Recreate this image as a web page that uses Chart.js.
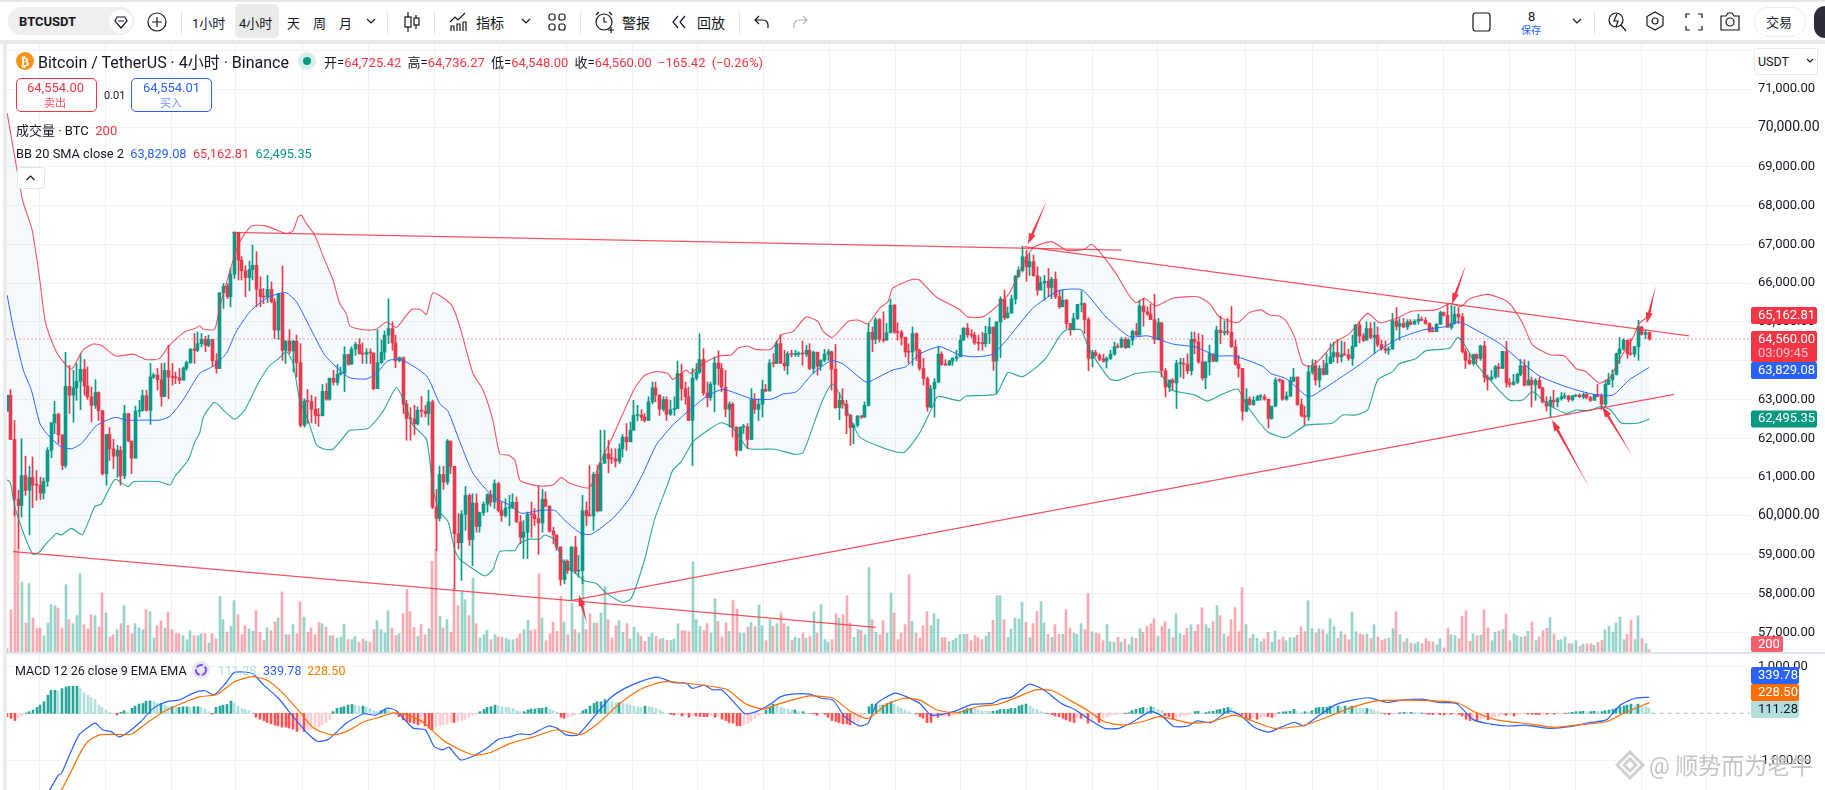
<!DOCTYPE html>
<html>
<head>
<meta charset="utf-8">
<title>BTCUSDT</title>
<script src="https://cdn.jsdelivr.net/npm/chart.js@4"></script>
<style>
html,body{margin:0;padding:0;background:#fff;width:1825px;height:790px;overflow:hidden;font-family:Roboto,"Noto Sans CJK SC",sans-serif;color:#131722}
.t{position:absolute;white-space:nowrap;transform:translateY(-50%);font-size:13px}
.ic{position:absolute;fill:none;stroke:#131722;stroke-width:1.2}
.sep{position:absolute;width:1px;top:10px;height:24px;background:#e0e3eb}
canvas{position:absolute;display:block}
.r{color:#F23645}
</style>
</head>
<body>
<div style="position:absolute;left:0;top:0;width:1825px;height:2px;background:#e6e6e6"></div>
<div style="position:absolute;left:0;top:40px;width:1825px;height:4px;background:#e9e9e9"></div>
<div style="position:absolute;left:3px;top:44px;width:4px;height:746px;background:#ececec"></div>

<!-- toolbar -->
<div style="position:absolute;left:8px;top:7px;width:126px;height:28px;border-radius:14px;background:#efefef"></div>
<div style="position:absolute;left:109px;top:10px;width:23px;height:23px;border-radius:12px;background:#fff"></div>
<span class="t" style="left:19px;top:21px;font-weight:700;font-size:13px">BTCUSDT</span>
<svg class="ic" style="left:114px;top:15px" width="14" height="14"><path d="M3 2h8l2 4-6 7-6-7z M4 6h6"/></svg>
<svg class="ic" style="left:147px;top:12px" width="20" height="20"><circle cx="10" cy="10" r="9"/><path d="M10 5v10M5 10h10"/></svg>
<div class="sep" style="left:181px"></div>
<div style="position:absolute;left:235px;top:4px;width:44px;height:34px;border-radius:5px;background:#ebebeb"></div>
<span class="t" style="left:192px;top:22px">1小时</span>
<span class="t" style="left:239px;top:22px">4小时</span>
<span class="t" style="left:287px;top:22px">天</span>
<span class="t" style="left:313px;top:22px">周</span>
<span class="t" style="left:339px;top:22px">月</span>
<svg class="ic" style="left:366px;top:17px" width="10" height="8"><path d="M1 2l4 4 4-4"/></svg>
<div class="sep" style="left:387px"></div>
<svg class="ic" style="left:403px;top:11px" width="18" height="22"><path d="M5 1v20M13 4v14"/><rect x="2" y="6" width="6" height="10" fill="#fff"/><rect x="11" y="7" width="5" height="7" fill="#fff"/></svg>
<div class="sep" style="left:434px"></div>
<svg class="ic" style="left:449px;top:12px" width="20" height="20"><path d="M1 10l5-5 3 3 7-7M2 19v-5h3v5M8 19v-7h3v7M14 19v-9h3v9"/></svg>
<span class="t" style="left:476px;top:22px;font-size:14px">指标</span>
<svg class="ic" style="left:521px;top:17px" width="10" height="8"><path d="M1 2l4 4 4-4"/></svg>
<svg class="ic" style="left:548px;top:13px" width="18" height="18"><rect x="1" y="1" width="6" height="6" rx="2"/><rect x="11" y="1" width="6" height="6" rx="2"/><rect x="1" y="11" width="6" height="6" rx="2"/><rect x="11" y="11" width="6" height="6" rx="2"/></svg>
<div class="sep" style="left:580px"></div>
<svg class="ic" style="left:594px;top:11px" width="22" height="22"><circle cx="10" cy="11" r="8"/><path d="M10 6v5h3M2 4l3-3M15 1l3 3M17 16v6M14 19h6"/></svg>
<span class="t" style="left:622px;top:22px;font-size:14px">警报</span>
<svg class="ic" style="left:671px;top:15px" width="16" height="14"><path d="M7 1L2 7l5 6M14 1L9 7l5 6"/></svg>
<span class="t" style="left:697px;top:22px;font-size:14px">回放</span>
<div class="sep" style="left:739px"></div>
<svg class="ic" style="left:754px;top:15px" width="16" height="14"><path d="M5 1L1 5l4 4M1 5h8a5 5 0 0 1 5 5v3"/></svg>
<svg class="ic" style="left:792px;top:15px;stroke:#b2b5be" width="16" height="14"><path d="M11 1l4 4-4 4M15 5H7a5 5 0 0 0-5 5v3"/></svg>
<svg class="ic" style="left:1472px;top:12px" width="19" height="20"><rect x="1" y="1" width="17" height="18" rx="2.5"/></svg>
<span class="t" style="left:1528px;top:16px;font-size:13px">8</span>
<span class="t" style="left:1521px;top:29px;font-size:10px;color:#2962ff">保存</span>
<svg class="ic" style="left:1572px;top:17px" width="10" height="8"><path d="M1 2l4 4 4-4"/></svg>
<div class="sep" style="left:1594px"></div>
<svg class="ic" style="left:1607px;top:10px" width="20" height="22"><circle cx="9" cy="10" r="7"/><path d="M14 15l5 6M10 4l-3 7h4l-2 6"/></svg>
<svg class="ic" style="left:1645px;top:11px" width="20" height="20"><path d="M10 1l8 4.5v9L10 19l-8-4.500v-9z"/><circle cx="10" cy="10" r="3"/></svg>
<svg class="ic" style="left:1685px;top:13px" width="18" height="18"><path d="M1 5V1h4M13 1h4v4M17 13v4h-4M5 17H1v-4"/></svg>
<svg class="ic" style="left:1720px;top:12px" width="20" height="19"><path d="M1 4h5l2-3h4l2 3h5v14H1z"/><circle cx="10" cy="10" r="4"/></svg>
<div style="position:absolute;left:1754px;top:7px;width:50px;height:28px;border:1px solid #ececec;border-radius:14px"></div>
<span class="t" style="left:1766px;top:21px">交易</span>
<div style="position:absolute;left:1814px;top:6px;width:11px;height:32px;background:#2a2e39;border-radius:16px 0 0 16px"></div>

<canvas id="priceChart" style="left:7px;top:44px" width="1818" height="608"></canvas>
<div style="position:absolute;left:7px;top:652px;width:1818px;height:2px;background:#e0e3eb"></div>
<canvas id="macdChart" style="left:7px;top:654px" width="1818" height="136"></canvas>

<!-- legends -->
<svg style="position:absolute;left:16px;top:52px" width="18" height="18"><circle cx="9" cy="9" r="9" fill="#f7931a"/><text x="5" y="13.500" font-size="12" font-weight="700" fill="#fff" font-family="Roboto">₿</text></svg>
<span class="t" style="left:38px;top:61px;font-size:16px">Bitcoin / TetherUS · 4小时 · Binance</span>
<svg style="position:absolute;left:298px;top:52px" width="18" height="18"><circle cx="9" cy="9" r="9" fill="#daeee9"/><circle cx="9" cy="9" r="4" fill="#089981"/></svg>
<span class="t" style="left:324px;top:61px;font-size:13px;word-spacing:3px">开=<span class="r">64,725.42</span> 高=<span class="r">64,736.27</span> 低=<span class="r">64,548.00</span> 收=<span class="r">64,560.00</span> <span class="r">−165.42 (−0.26%)</span></span>
<div style="position:absolute;left:16px;top:78px;width:79px;height:32px;border:1px solid #F23645;border-radius:5px;background:#fff"></div>
<span class="t r" style="left:27px;top:87px;font-size:13px">64,554.00</span>
<span class="t" style="left:44px;top:102px;font-size:11px;color:#f7525f">卖出</span>
<span class="t" style="left:104px;top:95px;font-size:11px">0.01</span>
<div style="position:absolute;left:131px;top:78px;width:79px;height:32px;border:1px solid #2962ff;border-radius:5px;background:#fff"></div>
<span class="t" style="left:143px;top:87px;font-size:13px;color:#2962ff">64,554.01</span>
<span class="t" style="left:160px;top:102px;font-size:11px;color:#6d8fff">买入</span>
<span class="t" style="left:16px;top:129px;font-size:13px">成交量 · BTC &nbsp;<span class="r">200</span></span>
<span class="t" style="left:16px;top:153px;font-size:12.800px">BB 20 SMA close 2 &nbsp;<span style="color:#2962ff">63,829.08</span> &nbsp;<span class="r">65,162.81</span> &nbsp;<span style="color:#089981">62,495.35</span></span>
<div style="position:absolute;left:17px;top:167px;width:26px;height:20px;border:1px solid #e0e3eb;border-radius:3px;background:#fff"></div>
<svg class="ic" style="left:25px;top:174px" width="11" height="8"><path d="M1.500 6l4-4 4 4"/></svg>
<div style="position:absolute;left:1754px;top:48px;width:62px;height:25px;border:1px solid #e8e8e8;border-radius:3px;background:#fff"></div>
<span class="t" style="left:1758px;top:61px;font-size:12.500px">USDT</span>
<svg class="ic" style="left:1806px;top:58px" width="8" height="6"><path d="M1 1l3 3 3-3"/></svg>
<span class="t" style="left:15px;top:670px;font-size:12.500px">MACD 12 26 close 9 EMA EMA</span>
<svg style="position:absolute;left:192px;top:661px" width="18" height="18"><circle cx="9" cy="9" r="9" fill="#e8e8f4"/><circle cx="9" cy="9" r="5" fill="none" stroke="#7a4cf0" stroke-width="2" stroke-dasharray="7 2"/></svg>
<span class="t" style="left:218px;top:670px;font-size:12.500px;color:#b2dfdb">111.28</span>
<span class="t" style="left:263px;top:670px;font-size:12.500px;color:#2962ff">339.78</span>
<span class="t" style="left:307px;top:670px;font-size:12.500px;color:#f57c00">228.50</span>

<!-- watermark -->
<svg style="position:absolute;left:1615px;top:750px" width="30" height="30" fill="none" stroke="#cfcfcf" stroke-width="3"><path d="M15 2l13 13-13 13L2 15z M15 9l6 6-6 6-6-6z"/></svg>
<span class="t" style="left:1649px;top:764px;font-size:23px;color:#c4c4c4;text-shadow:0 0 2px #fff">@ 顺势而为老牛</span>

<script>
/* global Chart */

// chart data, one entry per 4h bar
const firstOpen = 62700;
const closes = [
    63110,61970,60430,60270,61040,60660,60990,60800,60790,60590,
    60890,61690,62400,62620,62090,61300,63340,63110,63300,63470,
    63780,63350,63070,62850,63180,62710,61090,62100,61730,61540,
    61690,61030,62640,61930,61490,62700,62720,63100,62720,63580,
    63630,63510,63080,63750,63580,63570,63560,63500,63810,63950,
    64300,64270,64440,64550,64400,64550,64000,63800,65750,65920,
    65650,66230,67300,66590,66320,66140,66350,66460,65840,65650,
    65640,65840,65520,64790,65730,64270,64510,64250,64500,63950,
    62340,62960,62950,62750,62590,62580,63210,63010,63550,63440,
    63650,63680,64160,63910,64300,64420,64180,64170,64220,64200,
    63280,63950,64220,64660,64830,64460,64000,64080,62880,62510,
    62500,62380,62720,62700,62640,62940,60230,59940,61070,60870,
    61930,61280,59540,59310,60040,60530,59390,60330,59730,60080,
    60300,60550,60360,60830,60140,60010,60200,60230,60350,59840,
    59450,59580,60040,60030,59930,59820,60430,60250,59610,59510,
    59200,58360,58830,58590,59200,58580,58590,60140,60010,60000,
    61070,60130,61360,61600,61480,61470,61410,61730,62030,61910,
    62210,62590,62600,62550,62460,62940,63300,63110,62750,63000,
    62620,62740,62770,63670,63280,63070,62460,63550,63710,64030,
    63170,63050,63390,63940,63800,63320,62750,62880,62290,61690,
    62290,62300,61970,63010,62750,62880,63260,63220,63940,63930,
    64440,63940,63870,64180,64160,64170,64180,64170,64270,63800,
    64220,63860,64010,64170,64230,63780,62790,62980,62880,62590,
    62280,62340,62570,62550,62850,64730,64550,65060,64550,64530,
    64720,65430,64740,64730,64600,64230,64220,64700,64270,63800,
    63540,62810,63280,63450,64170,63900,63890,63990,64060,64100,
    64530,64840,64670,64660,64460,64450,64440,64700,64870,63990,
    65000,65590,65110,65230,65590,66180,66330,66680,66420,66550,
    66190,65820,66010,66050,65890,66100,65650,65390,65560,64960,
    64800,65090,65450,65470,65060,64060,64210,64140,64040,63990,
    64060,64170,64360,64350,64550,64340,64530,64760,64660,65410,
    65260,65200,65060,64550,64980,63740,63320,63500,63430,63930,
    63930,63910,63740,64550,64490,63970,63560,63970,64170,63990,
    64790,64720,64740,64730,64360,63910,63800,62700,63010,62870,
    62980,63070,63070,63010,62510,62830,63500,63490,63010,63090,
    63480,63580,62870,62590,62550,63710,63870,63500,63800,63650,
    63930,64100,64210,64100,64160,64150,64060,64370,64920,64640,
    64530,64830,64600,64660,64420,64310,64270,64300,65030,64890,
    64960,64870,65000,64940,65020,65070,65040,64960,64760,64750,
    64940,65240,65170,64860,64960,65200,65130,64230,64010,63930,
    64160,64060,64380,63580,63520,63580,63840,63800,64240,63430,
    63390,63450,63650,63870,63370,63500,63380,63490,63300,62940,
    62830,62980,62940,63020,63070,63090,63000,63090,63110,63070,
    63130,63050,62980,63130,63080,62880,63390,63510,63650,64180,
    64300,64530,64180,64170,64360,64870,64680,64730,64560
];
const highs = [
    63110,63260,62460,60660,61990,61540,61280,61520,61170,61000,
    60980,61760,62400,62950,62650,62090,64220,63880,63750,63930,
    64180,64030,63840,63320,63510,63200,62720,62100,62280,61970,
    61820,61790,62850,62640,61930,62830,62980,63240,63240,63930,
    63680,63800,63930,63940,64400,63930,63710,63800,63840,63990,
    64310,64700,64740,64700,64630,64660,64550,64180,65750,65990,
    65990,66380,67320,67300,66680,66450,66570,66980,66810,66160,
    65860,66200,66030,65600,65730,66440,64510,64800,64530,64660,
    64440,63020,63260,63110,63070,62770,63390,63410,63550,63750,
    63900,63840,64360,64170,64360,64480,64570,64460,64310,64310,
    64200,64790,64530,64770,65600,65000,64660,64100,64100,62980,
    62790,62850,62810,63080,62850,63240,62980,60680,61280,61280,
    61970,61930,61280,60060,60140,60760,60570,60570,60570,60100,
    60360,60570,60660,60930,60870,60360,60440,60530,60570,60490,
    60010,59880,60100,60360,60190,60770,60680,60620,60260,59710,
    59510,59200,58870,58870,59200,59470,58980,60530,60360,61300,
    61130,61300,62210,62210,61950,61730,61730,61860,62100,62380,
    62420,62980,62850,62740,62640,63070,63450,63450,63130,63070,
    63070,62980,63070,63990,63910,63450,63320,63800,63930,64700,
    64310,63450,63450,64100,64250,63930,63750,62940,62920,62290,
    62290,62360,62380,63280,63150,63020,63500,63390,64030,64180,
    64510,64670,64270,64230,64270,64270,64230,64510,64400,64440,
    64250,64220,64030,64290,64290,64250,64420,63170,63280,62980,
    62620,62380,62590,62590,62940,64960,64870,65110,65090,65260,
    64960,65590,65450,64980,64790,64610,64440,64870,64720,64300,
    64060,63580,63370,63540,64370,64230,64030,64010,64080,64270,
    64660,64850,64960,64800,64730,64660,64730,64890,65110,64870,
    65000,65650,65820,65390,65690,66200,66420,66950,66850,66760,
    66720,66420,66160,66200,66380,66150,66290,65820,65820,65580,
    64960,65220,65450,65800,65490,65110,64270,64270,64180,64170,
    64100,64270,64480,64440,64600,64600,64570,64790,64960,65560,
    65600,65390,65460,65710,65090,64980,63800,63510,63540,64010,
    64060,64060,64180,64740,64740,64700,64660,63970,64400,64180,
    64890,65150,65030,65090,65400,64530,64140,63800,63280,63070,
    63070,63110,63130,63130,63010,62830,63560,63540,63510,63200,
    63580,63800,63580,63020,62830,63880,64030,64010,63880,64010,
    64180,64440,64480,64550,64510,64480,64300,64660,64940,65000,
    64700,65000,64980,65000,64870,64530,64510,64360,65220,65370,
    65090,65090,65060,65060,65060,65200,65130,65110,64980,64870,
    64960,65280,65260,65450,65430,65400,65370,65220,64310,64180,
    64170,64180,64400,64500,63630,63750,63880,63930,64240,64500,
    63540,63650,63680,64030,64030,63990,63580,63540,63580,63320,
    63070,63070,63240,63050,63180,63170,63110,63110,63130,63150,
    63170,63170,63080,63130,63390,63150,63500,63680,63770,64200,
    64600,64570,64530,64570,64370,65040,64890,64790,64740
];
const lows = [
    62700,61970,60010,59150,59970,60530,59510,60210,60400,60420,
    60440,60760,61500,62120,61860,61190,61240,62640,62420,62980,
    62740,63110,63000,62420,62770,62460,61050,60790,61430,61220,
    61000,60790,60960,61910,61090,61490,62550,62700,62700,62360,
    63540,63250,62830,63070,63020,63370,63410,63410,63500,63750,
    63930,63930,64230,64360,64230,64360,63860,63680,63800,65350,
    65600,65390,66120,66080,66080,65650,65800,66080,65390,65390,
    65470,65500,65490,64570,64550,64010,63930,64180,63710,63580,
    62290,62290,62380,62400,62380,62310,62580,62980,62980,63370,
    63370,63630,63200,63880,63910,64140,64170,63930,63930,63930,
    63250,63280,63930,64030,64440,64270,63820,63970,62640,61950,
    61950,62090,62340,62550,62550,62340,60190,59110,59870,60680,
    60810,61090,58120,59150,58340,59630,59240,58720,59580,59580,
    60010,60100,60250,60190,60100,59860,59970,59750,60190,59840,
    59280,58900,58900,59450,59750,59010,59580,60230,59580,59280,
    59110,58210,58250,58510,57820,58510,58420,58250,59750,60000,
    59630,60100,60130,61350,61110,61350,61260,61350,61520,61690,
    61910,62210,62450,62460,62420,62460,62890,62940,62590,62700,
    62460,62590,62590,62770,62980,62880,62460,61300,63500,63670,
    63110,62810,62980,62680,63370,63200,62550,62290,62030,61540,
    61690,62120,61730,61970,62640,62460,62550,63200,63220,63840,
    63930,63930,63750,63650,64100,64110,64110,63880,64110,63770,
    63670,63630,63750,63970,64010,63240,62770,62480,62770,62120,
    61820,61860,62290,62510,62530,62830,64230,64440,64480,64480,
    64530,64720,64700,64530,64400,64100,63930,63880,64000,63750,
    63370,62700,62790,62550,63430,63880,63880,63880,63880,63990,
    64100,64530,64600,64600,64420,64270,64270,64360,64440,63750,
    63150,64080,65060,65090,65220,65460,66150,66290,66050,66200,
    66180,65690,65820,65560,65650,65600,65600,65350,65390,64830,
    64660,64790,65060,65260,64700,63740,63840,64100,64000,63960,
    63810,64030,64140,64330,64340,64310,64340,64400,64650,64660,
    64890,65170,65060,64440,64530,63580,63070,63200,63240,62770,
    63580,63540,63670,63630,64180,63930,63500,63280,63630,63970,
    63970,64440,64660,64670,64340,63880,63580,62460,62680,62850,
    62850,62980,62980,62980,62270,62490,62810,63450,62980,62980,
    63070,63450,62850,62550,62340,62460,63650,63370,63320,63630,
    63650,63930,63970,63940,63970,64140,64010,63880,64360,64460,
    64490,64530,64570,64180,64360,64270,64200,64160,64300,64790,
    64530,64850,64800,64920,64940,64940,65030,64940,64730,64740,
    64750,64940,65150,64860,64810,64940,64960,64200,63800,63900,
    63880,63930,64010,63450,63240,63500,63540,63580,63800,63320,
    63320,63370,63410,63610,63350,63370,62810,62980,63280,62910,
    62700,62550,62810,62810,62980,63020,62940,62960,63070,63050,
    63020,63020,62950,62980,63070,62740,62810,63390,63320,63630,
    63930,64270,64060,64140,64100,64010,64660,64570,64530
];
const volumes = [
    300,3810,12660,9210,6300,2610,6150,3060,2100,2160,
    1470,2610,4260,4170,3960,2160,6060,2910,2550,3270,
    7050,2460,2070,3360,3270,2250,5310,3510,1350,1560,
    2010,2550,4170,2400,1650,2550,2160,2010,3810,3630,
    1260,2370,2790,2160,3600,2010,1650,1650,1470,1110,
    1920,1470,1470,1650,1650,810,1650,1170,5010,2910,
    1800,2310,4620,3360,1560,2370,2070,1860,3720,1770,
    1020,2160,1920,2700,3060,5400,1560,1560,2460,1650,
    4530,3150,1770,2160,1560,2670,2550,2250,1470,1470,
    1260,1350,2460,1110,1110,1410,870,1170,990,900,
    2010,2820,2010,1710,3720,2160,1470,1650,3450,5610,
    3630,2220,1410,2460,1560,2100,8160,9270,3210,2160,
    2910,1770,5760,4170,5460,4710,3270,6660,2550,1290,
    1560,1950,1110,1560,1350,1350,1230,1110,1110,1260,
    1650,2010,2850,1920,2010,7050,3060,1020,1650,2700,
    1860,5010,2700,1560,4410,2010,1710,6810,2010,3450,
    2610,2610,3510,5910,2910,1260,2370,2820,1770,2550,
    1170,2250,1710,1410,960,1350,1710,1410,1170,1230,
    1050,1050,1170,2550,1920,1920,1830,8130,2910,2310,
    1920,2550,1710,4800,2760,1350,2610,1860,4620,3870,
    1710,1710,2250,2670,2310,4230,2370,1020,2910,2310,
    2550,3510,2550,2310,1020,1350,1230,1710,1230,1410,
    3600,1710,4260,1110,870,1110,3450,3060,3360,5070,
    2610,1320,2010,1950,1560,7590,2910,1800,1560,2820,
    1710,5310,3510,1110,1710,2460,6960,2760,1710,1260,
    2370,3630,2370,3450,2970,1290,1290,930,1050,1230,
    1560,1590,1590,1020,1470,1290,1110,1410,1770,2850,
    5070,5070,2910,1320,2070,3060,2970,4470,2670,1290,
    2550,3630,4530,2610,1590,1320,2460,1590,1590,3810,
    2160,1710,1590,2550,2010,5250,1830,1710,1650,1020,
    2460,930,870,1320,900,1170,660,1350,1230,2100,
    1770,2310,2550,3000,1410,2310,2730,2070,1320,3450,
    1650,1500,2130,2460,1860,2460,3990,2460,2130,2730,
    4170,3270,1620,1410,2910,3990,1830,5790,2460,1230,
    1590,1230,930,1170,1770,870,1890,1110,1350,1020,
    1290,1290,1500,2310,1830,4620,2100,1710,2070,2010,
    1620,3000,2310,1230,1830,1560,1110,3600,1830,1620,
    1560,1620,1230,2460,1350,1050,1170,1260,2100,3630,
    1560,900,1200,810,750,900,750,1200,960,900,
    660,1200,360,2100,1560,1470,1200,3210,3720,960,
    1650,1470,1530,3810,2190,1020,1770,1890,2010,3420,
    1020,1650,1470,1350,1410,1860,2700,1020,1350,1920,
    2130,3090,1620,1050,1110,1350,750,750,1020,510,
    720,750,750,600,870,1050,2010,2310,1800,2610,
    3150,1110,1590,2850,1110,3270,1200,750,200
];
const macdHist = [
    -70,-105,-154,-98,-56,7,35,70,126,175,245,385,490,490,476,525,560,574,574,574,
    525,434,385,336,294,175,126,70,14,0,-35,21,56,21,105,154,196,210,259,266,
    245,210,210,175,140,140,126,126,140,140,126,140,140,126,98,35,-14,126,154,175,
    189,259,210,154,98,84,56,7,-84,-126,-154,-196,-224,-252,-266,-294,-294,-315,-336,-385,
    -350,-385,-364,-336,-315,-294,-245,-196,-126,35,105,126,140,175,189,175,154,154,140,98,
    56,35,56,84,70,14,-14,-70,-140,-175,-196,-210,-245,-224,-266,-315,-350,-294,-266,-245,
    -224,-196,-196,-175,-154,-126,-84,-42,-14,35,84,126,140,175,161,140,126,119,105,56,
    35,35,70,91,91,105,105,126,84,56,28,-84,-105,-84,-56,-35,-14,56,84,154,
    210,245,245,294,266,245,224,224,210,196,175,154,140,126,154,140,126,105,70,28,
    0,-21,-35,-21,-56,-35,-84,-35,-56,-70,-70,-70,-42,-84,-70,-126,-154,-196,-210,-266,
    -266,-245,-224,-175,-105,-56,-14,70,126,196,175,126,105,91,70,70,35,35,0,0,
    -14,-42,-14,-21,-84,-154,-175,-196,-224,-224,-245,-224,-175,-105,0,140,196,196,175,175,
    210,245,196,140,105,70,35,0,-14,
    -70,-105,-196,-196,-84,-84,-70,-56,-56,-35,-14,35,70,98,105,98,70,56,49,42,
    42,56,84,84,84,105,105,154,175,196,154,105,84,35,14,-7,-28,-56,-70,-105,
    -140,-175,-196,-105,-105,-84,-210,-196,-126,-196,-105,-70,-42,-35,-21,-7,-7,14,56,84,
    105,126,105,140,126,84,56,-56,-70,-126,-105,-70,-56,-42,-14,35,42,7,14,35,
    42,70,84,105,126,112,56,14,-42,-105,-126,-105,-126,-105,-70,-70,-84,-56,14,28,
    35,42,84,35,14,35,21,56,112,126,126,126,154,140,154,140,154,140,154,126,
    112,98,105,84,56,35,14,-14,-28,-21,-7,14,21,14,21,14,7,7,-7,-21,
    -28,-14,-28,-35,-21,-21,-14,-21,-56,-126,-154,-140,-154,-126,-105,-140,-105,-70,-56,-35,
    -42,-35,-56,-28,-21,-14,-21,-21,-28,-28,-14,-21,-14,-21,-14,-7,-7,7,21,35,
    35,42,35,35,42,35,35,56,70,84,105,140,154,175,196,154,196,175,140,111
];

// bollinger bands and macd lines as [bar, value] points
const bbUpper = [[0,70380],[4.2,68140],[6.8,67370],[8.9,66080],[10.5,64960],[13.5,64210],[17.5,63780],[20.7,64280],[23.5,64430],[25.7,64400],[29.6,64120],[34.4,64170],[38,64030],[41.6,64060],[43.9,64360],[48.5,64750],[51.2,64830],[52.5,64900],[53.6,64810],[56.6,64810],[58,65390],[63,66980],[66.6,67470],[70.7,67470],[76.2,67280],[78,67350],[79.4,67710],[80.3,67750],[81.6,67540],[83.9,67240],[86.6,66600],[88.9,66080],[90.7,65480],[92.5,65220],[93.5,64900],[98,64790],[100.7,64810],[103.5,65000],[106.2,64860],[110.3,65320],[112.7,65320],[114.4,65200],[116.2,65750],[121.2,65440],[123.5,64880],
    [127.1,63670],[129.8,63250],[132.5,62470],[134.4,61600],[136.6,61570],[138.5,61440],[139.8,60930],[141.6,60840],[145.3,60770],[148.9,60800],[151.2,60990],[153.5,60840],[158.9,60730],[161.6,61350],[164.8,61960],[168,62640],[171.2,63290],[173.9,63620],[177.1,63720],[180.3,63670],[181.6,63520],[185.3,63760],[186.4,63670],[189.8,63930],[194.4,64130],[197.5,64150],[199.4,64320],[202.1,64380],[203.9,64300],[208.5,64300],[211.4,64680],[214.4,64750],[218,65130],[221.2,65010],[222.5,64770],[225.1,64600],[229.4,65010],[232.1,65050],[234.8,64950],[238,65350],[240.3,65520],[241.6,65870],[247.1,66100],
    [248.9,66080],[253.4,65650],[259.8,65320],[262.1,65130],[266.2,65130],[269.8,65390],[273.4,65740],[278,66640],[280.3,66940],[284.8,67070],[287.5,66940],[288.9,66840],[293.9,66870],[295.7,67000],[298,66810],[302.5,66250],[305.7,65740],[308,65500],[310.3,65610],[313.4,65410],[318,65610],[324.8,65650],[328,65480],[330.7,65130],[335.7,64980],[338.9,65240],[342.1,65310],[344.4,65180],[347.1,65150],[348.9,65030],[351.2,64620],[353.4,63930],[355.3,63850],[358,64020],[362.5,64490],[366.2,64700],[371.2,65220],
    [374.4,64980],[378.9,65090],[383.4,65280],[389.8,65310],[393.9,65480],[396.6,65390],[398.9,65590],[403.9,65710],[409.4,65520],[413.5,64960],[416.2,64400],[421.2,64150],[424.8,64130],[428,63800],[430.7,63720],[434.4,63420],[437.5,63590],[439.8,64020],[443.5,64580],[445.3,64960],[448,65163]];
const bbMiddle = [[0,65690],[1.6,64880],[4.4,63760],[6.6,63240],[8.9,62390],[10.7,62130],[14.4,61800],[17.5,61730],[20.3,61870],[24.4,62330],[29.4,62540],[32.5,62470],[38,62470],[41.6,62470],[44.4,62570],[48,62990],[52.5,63670],[56.2,63860],[59.8,64190],[62.5,64750],[66.2,65260],[70.7,65610],[74.4,65740],[76.2,65750],[78.9,65520],[82.5,64880],[86.6,64150],[90.7,63760],[93.5,63560],[98,63530],[100.7,63670],[103.9,64000],[107.5,64030],[114.4,63610],[118,62900],[120.3,62690],[123.5,61910],
    [127.1,61100],[132.5,60500],[137.1,60280],[140.3,60070],[145.3,60140],[149.4,60140],[152.5,59850],[156.6,59550],[159.4,59530],[165.3,59940],[169.8,60450],[173.5,61100],[177.1,61830],[181.6,62340],[186.2,62730],[190.7,63070],[195.3,63260],[203.5,63010],[208.5,63010],[211.6,63140],[215.3,63200],[219.8,63670],[224.8,64000],[228,63920],[234.4,63450],[238,63590],[241.6,63760],[245.3,63850],[248.9,64170],
    [254.4,64360],[259.8,64150],[263.9,64100],[268.9,64170],[273.4,64620],[279.8,65350],[286.2,65780],[288.9,65840],[293.4,65820],[299.8,65130],[306.2,64620],[311.2,64640],[318,64430],[324.4,64350],[329.8,64130],[334.8,64120],[342.5,63860],[344.8,63670],[348.9,63540],[354.4,63100],[356.2,63100],[363.4,63540],[368.9,63890],[374.4,64280],
    [379.8,64580],[386.2,64790],[392.5,64880],[396.2,65000],[401.6,64750],[407.1,64450],[412.5,64020],[418,63610],[425.3,63330],[432.5,63140],[438,63110],[442.5,63500],[448,63829]];
const bbLower = [[0,60930],[0.9,60840],[2.1,60240],[4.8,59470],[7.1,59010],[8.9,59080],[10.7,59290],[13.5,59550],[14.8,59510],[17.5,59680],[20.5,59520],[23.9,60240],[25.7,60310],[29.4,60940],[33,60750],[34.4,60880],[41.6,60880],[44.5,60800],[45.7,61010],[49.4,61440],[51.2,61910],[52.5,62130],[53.6,62560],[56.6,62930],[59.4,62690],[62.1,62490],[64.8,62730],[68.5,63420],[71.6,63870],[73.9,64040],[76.2,64230],[78,63930],[79.8,62990],[82.1,62470],[84.4,61830],[86.6,61720],[88.9,61720],[93,62170],[93.5,62210],[98.5,62260],[102.5,62690],[106.2,63310],[108.5,62900],[110.7,62340],[114.4,61970],[116.2,60670],[118,60110],[120.3,59850],[122.1,59120],[123.5,58880],
    [127.5,58610],[130.3,58450],[132.5,58610],[134.4,59080],[138.5,59110],[139.8,59290],[142.5,59400],[145.3,59400],[146.6,59510],[149.4,59380],[151.6,58820],[154.8,58540],[157.5,58330],[160.7,58260],[163.5,58010],[168,57770],[170.3,57880],[173.9,58870],[176.6,59900],[180.3,60840],[181.6,61180],[183.9,61400],[187.1,61910],[191.2,62210],[194.8,62400],[198,62260],[202.1,61740],[205.7,61720],[209.4,61720],[214.8,61590],[217.1,61630],[220.3,62430],[222.5,62990],[225.1,63400],[227.5,63070],[232.5,62040],[238,61790],[242.1,61660],[244.8,61640],[248.9,62130],
    [252.5,62820],[253.9,63080],[259.8,62970],[261.6,63090],[269.8,63140],[273,63690],[277.1,63590],[283,64020],[287.1,64620],[288.9,64790],[293,64790],[295.3,64280],[300.7,63540],[303,63490],[308,63670],[314.4,63700],[317.5,63250],[323.9,63120],[327.5,62960],[331.6,63140],[335.7,63270],[338.4,62820],[343.9,62170],[348.9,62020],[354.4,62340],[361.6,62390],[364.4,62600],[368,62600],[371.2,62730],[373.9,63500],
    [378,63720],[379.8,63920],[384.4,64060],[387.1,64260],[393.5,64320],[395.7,64600],[397.1,64490],[400.7,63930],[405.3,63420],[409.8,62990],[413.5,62990],[416.2,63200],[420.3,62880],[425.3,62640],[428,62730],[431.6,62710],[434.8,62820],[437.5,62730],[440.3,62400],[444.8,62390],[448,62495]];
const macdLine = [[8,-2000],[11.6,-1630],[14,-1310],[14.8,-1280],[17.2,-850],[19.6,-460],[22,-300],[24.1,-210],[26,-350],[28.4,-390],[30.5,-500],[33.2,-390],[36.4,-180],[39.9,110],[43.6,250],[46.8,280],[50.8,430],[54,480],[56.4,390],[59.6,640],[62,870],[66.8,850],[70,600],[74,320],[78,-70],[82,-430],[84.8,-600],[87.7,-550],[92.5,-210],[97.3,-10],[100.5,-40],[103.7,110],[106.1,60],[109.3,-210],[110.9,-320],[114.1,-350],[116.5,-710],[118.9,-780],[120.5,-720],[123.7,-990],[126.9,-920],[130.9,-740],[134.1,-550],[137.3,-500],[139.7,-440],[142.9,-450],[147.7,-270],[150.1,-320],[152.5,-460],[155.7,-460],[159.7,-110],[164.5,320],[168.5,530],[173.3,690],[177.3,770],[182.1,650],[185.3,640],[186.9,530],[190.1,600],[192.5,500],[194.9,500],[198.1,250],[201.3,-10],[204.5,40],[208.5,210],[210.9,350],[214.1,410],[218.9,410],[222.1,320],[225.3,280],[228.5,-70],[232.5,-270],[234.9,-210],[237.3,210],[242.2,430],[245.4,350],[249,210],
    [252.1,-40],[258.4,40],[263.2,190],[268.7,210],[271,300],[274.2,350],[278.9,620],[282.8,500],[287.6,210],[291.5,70],[295.4,-140],[299.4,-320],[303.3,-320],[307.2,-180],[312,40],[315.1,-60],[318.3,-280],[322.2,-270],[324.6,-160],[328.5,-200],[333.2,50],[336.4,-40],[340.3,-300],[344.2,-400],[347.4,-300],[351.3,-190],[353.7,-270],[356.8,-110],[362.3,180],[367.1,280],[371.8,330],[376.5,230],[379.6,270],[385.9,300],[390.7,230],[395.4,210],[400.1,-140],[404.8,-230],[409.5,-270],[414.3,-250],[420.6,-320],[426.9,-280],[431.6,-200],[436.3,-140],[440.2,180],[444.2,320],[448,340]];
const signalLine = [[11,-2100],[14.8,-1630],[17.2,-1280],[19.6,-890],[22,-600],[25.2,-460],[30,-450],[34,-440],[38,-210],[42.8,40],[47.6,210],[52.4,350],[57.2,400],[62,670],[66.8,780],[70.8,710],[74.8,460],[79.7,40],[83.7,-320],[88.5,-460],[92.5,-390],[97.3,-180],[101.3,-90],[105.3,10],[109.3,-40],[113.3,-180],[118.9,-570],[123.7,-780],[127.7,-890],[131.7,-840],[137.3,-640],[143.7,-500],[150.1,-350],[156.5,-450],[161.3,-210],[166.1,140],[172.5,500],[178.9,670],[185.3,640],[192.5,570],[196.5,500],[201.3,210],[206.1,90],[210.9,210],[218.9,370],[225.3,320],[230.1,40],[234.9,-110],[239.8,180],[244.6,320],[249,280],
    [253.7,70],[259.2,10],[264.7,140],[270.2,190],[275.8,350],[280.5,500],[285.2,480],[289.9,280],[294.6,70],[299.4,-180],[304.1,-250],[309.6,-180],[314.3,-70],[318.3,-130],[323,-210],[328.5,-180],[334.8,-40],[340.3,-180],[345.8,-320],[353.7,-260],[359.2,-110],[366.3,110],[373.3,260],[382.8,280],[395.4,230],[400.1,40],[406.4,-140],[415.8,-230],[422.1,-300],[428.4,-250],[436.3,-180],[441,0],[448,228]];

// drawings on the chart, [bar, price] end points
const trendLines = [
    [[1.6,59080],[237,57130]],
    [[61.4,67310],[304,66850]],
    [[277.5,66940],[458.9,64640]],
    [[154.4,57830],[454.8,63130]]
];
const arrows = [
    [[283.7,68140],[278.5,67000]],
    [[398,66480],[394.2,65460]],
    [[449.8,65930],[447.3,64960]],
    [[431.6,60740],[421.5,62470]],
    [[443.5,61530],[435.2,62820]],
    [[158.2,57230],[156,57960]]
];

const priceTicks = [57000,58000,59000,60000,61000,62000,63000,64000,65000,66000,67000,68000,69000,70000,71000,72000];
const macdTicks = [-1000,1000];
const gridBars = [8.7,26.7,44.9,62.4,80.5,98.7,116.7,134.4,152.6,170.5,188.4,206.4,224.4,242.4,260.2,278.2,296.2,313.9,337.9,356,374,392,410,428,445.8,463.5];

const lastPrice = 64560, upperValue = 65162.81, middleValue = 63829.08, lowerValue = 62495.35;
const RED = '#F23645', GREEN = '#089981', BLUE = '#2962FF', ORANGE = '#F57C00';
const FONT = 'Roboto, "Noto Sans CJK SC", sans-serif';
const opens = [firstOpen, ...closes.slice(0, -1)];

const fmt = (v) => v.toLocaleString('en-US', {minimumFractionDigits: 2, maximumFractionDigits: 2});
const toPoints = (list) => list.map((p) => ({x: p[0], y: p[1]}));

function xAxis() {
    return {
        type: 'linear',
        min: -0.05,
        max: 475.5,
        offset: false,
        border: {display: false},
        grid: {color: '#f1f2f4', offset: false, drawTicks: false},
        ticks: {display: false},
        afterBuildTicks: (scale) => {
            scale.ticks = gridBars.map((value) => ({value}));
        }
    };
}

function yAxis(min, max, tickValues, hiddenLabel) {
    return {
        position: 'right',
        min,
        max,
        stacked: false,
        border: {display: false},
        grid: {color: '#f1f2f4', drawTicks: false},
        ticks: {
            padding: 8,
            autoSkip: false,
            crossAlign: 'near',
            color: '#131722',
            font: (ctx) => ({family: FONT, size: ctx.tick && ctx.tick.value % 10000 === 0 ? 14 : 13}),
            callback: (value) => (value === hiddenLabel ? '' : fmt(value))
        },
        afterBuildTicks: (scale) => {
            scale.ticks = tickValues.map((value) => ({value}));
        },
        afterFit: (scale) => {
            scale.width = 75;
            scale.paddingTop = 0;
            scale.paddingBottom = 0;
        }
    };
}

function line(points, color, width, order, extra) {
    return Object.assign({
        type: 'line',
        data: toPoints(points),
        borderColor: color,
        borderWidth: width,
        pointRadius: 0,
        tension: 0.2,
        order
    }, extra);
}

// keep the thin bars on whole pixels so they stay crisp
const snapPlugin = {
    id: 'snapBars',
    beforeDatasetsDraw(chart) {
        chart.getSortedVisibleDatasetMetas().forEach((meta) => {
            if (meta.type !== 'bar') return;
            meta.data.forEach((bar) => {
                bar.x = bar.width % 2 ? Math.floor(bar.x) + 0.5 : Math.round(bar.x);
            });
        });
    }
};

// value badges on the right axis
const tagPlugin = {
    id: 'tags',
    afterDraw(chart, args, opts) {
        const ctx = chart.ctx;
        const left = chart.chartArea.right + 1;
        ctx.save();
        ctx.textBaseline = 'middle';
        opts.items.forEach((tag) => {
            const mid = chart.scales[tag.scale || 'y'].getPixelForValue(tag.value);
            const h = tag.height || 17;
            const top = tag.top !== undefined ? tag.top : mid - h / 2;
            ctx.fillStyle = tag.color;
            ctx.beginPath();
            ctx.roundRect(left, top, tag.width || 66, h, 2);
            ctx.fill();
            ctx.fillStyle = tag.textColor || '#fff';
            ctx.font = '13px ' + FONT;
            tag.lines.forEach((text, i) => {
                ctx.globalAlpha = i ? 0.7 : 1;
                ctx.fillText(text, left + 7, top + 8.5 + i * 14);
            });
            ctx.globalAlpha = 1;
        });
        ctx.restore();
    }
};

// hand drawn arrows, thin at the tail and with a head at the tip
const arrowPlugin = {
    id: 'arrows',
    afterDatasetsDraw(chart, args, opts) {
        const {x, y} = chart.scales;
        const ctx = chart.ctx;
        ctx.save();
        ctx.fillStyle = RED;
        (opts.items || []).forEach(([tail, tip]) => {
            const tx = x.getPixelForValue(tail[0]), ty = y.getPixelForValue(tail[1]);
            const px = x.getPixelForValue(tip[0]), py = y.getPixelForValue(tip[1]);
            const len = Math.hypot(px - tx, py - ty);
            const ux = (px - tx) / len, uy = (py - ty) / len;
            const nx = -uy, ny = ux;
            const bx = px - ux * 11, by = py - uy * 11;
            ctx.beginPath();
            ctx.moveTo(tx, ty);
            ctx.lineTo(bx + nx * 1.3, by + ny * 1.3);
            ctx.lineTo(bx + nx * 3.5, by + ny * 3.5);
            ctx.lineTo(px, py);
            ctx.lineTo(bx - nx * 3.5, by - ny * 3.5);
            ctx.lineTo(bx - nx * 1.3, by - ny * 1.3);
            ctx.closePath();
            ctx.fill();
        });
        ctx.restore();
    }
};

const upColor = (i) => closes[i] >= opens[i];
const baseOptions = {
    responsive: false,
    animation: false,
    devicePixelRatio: 1,
    layout: {padding: 0},
    events: []
};

new Chart(document.getElementById('priceChart'), {
    type: 'bar',
    data: {
        datasets: [
            {
                data: volumes.map((v, i) => ({x: i, y: v})),
                yAxisID: 'yVol',
                grouped: false,
                barThickness: 2,
                backgroundColor: volumes.map((v, i) => (upColor(i) ? 'rgba(8,153,129,0.42)' : 'rgba(242,54,69,0.42)')),
                order: 10
            },
            {
                data: closes.map((c, i) => ({x: i, y: [lows[i], highs[i]]})),
                grouped: false,
                barThickness: 1,
                backgroundColor: closes.map((c, i) => (upColor(i) ? GREEN : RED)),
                order: 6
            },
            {
                data: closes.map((c, i) => ({x: i, y: [opens[i], c]})),
                grouped: false,
                barThickness: 3,
                minBarLength: 1,
                backgroundColor: closes.map((c, i) => (upColor(i) ? GREEN : RED)),
                order: 5
            },
            line(bbUpper, 'rgba(242,54,69,0.85)', 1.1, 3, {fill: {target: '+1', above: 'rgba(33,150,243,0.05)', below: 'rgba(33,150,243,0.05)'}}),
            line(bbLower, 'rgba(8,153,129,0.85)', 1.1, 3),
            line(bbMiddle, BLUE, 1, 3),
            line([[-1, lastPrice], [476, lastPrice]], RED, 1, 4, {borderDash: [1, 3], tension: 0}),
            ...trendLines.map((t) => line(t, 'rgba(242,54,69,0.85)', 1.3, 1, {tension: 0}))
        ]
    },
    options: Object.assign({}, baseOptions, {
        scales: {
            x: xAxis(),
            y: yAxis(56493, 72163, priceTicks, 72000),
            yVol: {display: false, min: 0, max: 54720, stacked: false}
        },
        plugins: {
            legend: {display: false},
            tooltip: {enabled: false},
            arrows: {items: arrows},
            tags: {
                items: [
                    {value: upperValue, color: RED, lines: [fmt(upperValue)]},
                    {value: lastPrice, top: 287, height: 31, color: RED, lines: [fmt(lastPrice), '03:09:45']},
                    {value: middleValue, top: 318, color: BLUE, lines: [fmt(middleValue)]},
                    {value: lowerValue, color: GREEN, lines: [fmt(lowerValue)]},
                    {value: 200, top: 592, height: 16, width: 32, color: 'rgba(242,54,69,0.8)', lines: ['200']}
                ]
            }
        }
    }),
    plugins: [snapPlugin, tagPlugin, arrowPlugin]
});

function histColor(i) {
    const v = macdHist[i], prev = i ? macdHist[i - 1] : 0;
    if (v >= 0) return v >= prev ? '#26a69a' : '#b2dfdb';
    return v <= prev ? '#ff5252' : '#ffcdd2';
}

new Chart(document.getElementById('macdChart'), {
    type: 'bar',
    data: {
        datasets: [
            {
                data: macdHist.map((v, i) => ({x: i, y: v})),
                grouped: false,
                barThickness: 2,
                backgroundColor: macdHist.map((v, i) => histColor(i)),
                order: 5
            },
            line([[-1, 0], [476, 0]], 'rgba(120,123,134,0.55)', 1, 6, {borderDash: [4, 4], tension: 0}),
            line(macdLine, BLUE, 1.2, 2),
            line(signalLine, '#FF6D00', 1.2, 1)
        ]
    },
    options: Object.assign({}, baseOptions, {
        scales: {
            x: xAxis(),
            y: yAxis(-1632, 1262, macdTicks)
        },
        plugins: {
            legend: {display: false},
            tooltip: {enabled: false},
            tags: {
                items: [
                    {value: 339.78, top: 13, width: 48, color: BLUE, lines: ['339.78']},
                    {value: 228.5, top: 30, width: 48, color: '#FF6D00', lines: ['228.50']},
                    {value: 111.28, top: 47, width: 48, color: '#b2dfdb', textColor: '#131722', lines: ['111.28']}
                ]
            }
        }
    }),
    plugins: [snapPlugin, tagPlugin]
});
</script>
</body>
</html>
